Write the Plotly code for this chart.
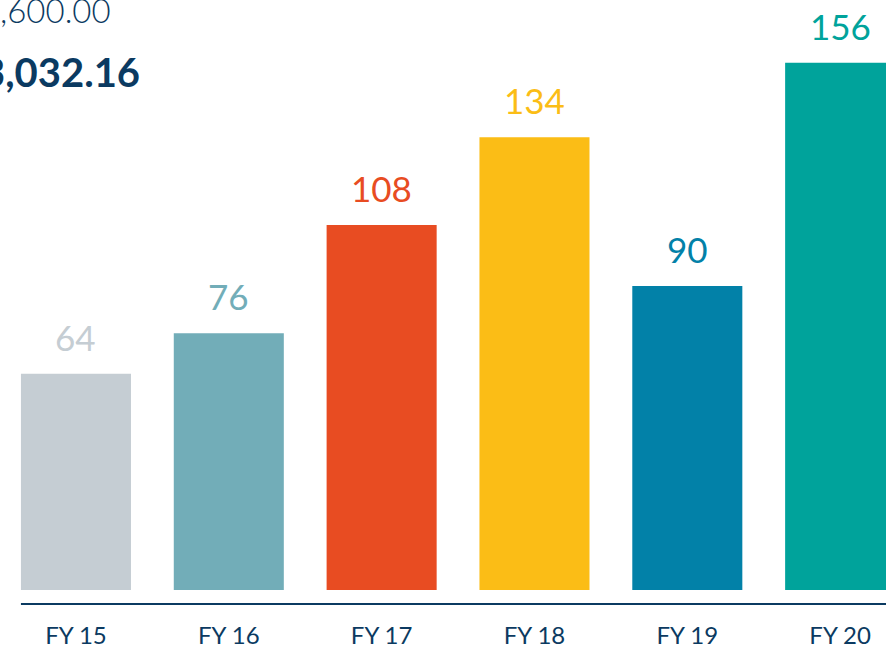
import plotly.graph_objects as go

categories = ["FY 15", "FY 16", "FY 17", "FY 18", "FY 19", "FY 20"]
values = [64, 76, 108, 134, 90, 156]
bar_colors = ["#c5cdd3", "#72adb8", "#e84c22", "#fbbd16", "#0281a8", "#00a39b"]
header_top = ",600.00"
header_main = "3,032.16"
navy = "#0b3a61"

fig = go.Figure()
fig.add_trace(go.Bar(
    x=list(range(len(categories))), y=values,
    marker=dict(color=bar_colors, line=dict(width=0)),
    width=0.72, hoverinfo="skip",
))

for i, (v, c) in enumerate(zip(values, bar_colors)):
    fig.add_annotation(x=i, y=v, text=str(v), showarrow=False,
                       yanchor="bottom", yshift=14,
                       font=dict(family="Lato", size=35, color=c))

fig.add_annotation(xref="paper", yref="paper", x=113/886, y=1 - 11/649,
                   xanchor="right", yanchor="middle", text=header_top, showarrow=False,
                   font=dict(family="Lato", size=33, color=navy, weight=300))
fig.add_annotation(xref="paper", yref="paper", x=142/886, y=1 - 77/649,
                   xanchor="right", yanchor="middle", text="<b>" + header_main + "</b>",
                   showarrow=False,
                   font=dict(family="Lato", size=40, color=navy))

fig.add_shape(type="line", xref="x", yref="y", x0=-0.36, x1=5.6, y0=-4.13, y1=-4.13,
              line=dict(color=navy, width=2))

fig.update_layout(
    width=886, height=649,
    margin=dict(l=0, r=0, t=0, b=39),
    plot_bgcolor="white", paper_bgcolor="white",
    showlegend=False,
    xaxis=dict(range=[-0.497, 5.30], tickmode="array",
               tickvals=list(range(len(categories))), ticktext=categories,
               showgrid=False, zeroline=False, showline=False,
               ticks="", ticklabelstandoff=11,
               tickfont=dict(family="Lato", size=24, color=navy)),
    yaxis=dict(range=[-5.3, 174.6], visible=False, showgrid=False, zeroline=False),
)

fig.write_html("out.html", config={"displayModeBar": False},
               post_script="document.body.style.margin='0';document.body.style.padding='0';")
